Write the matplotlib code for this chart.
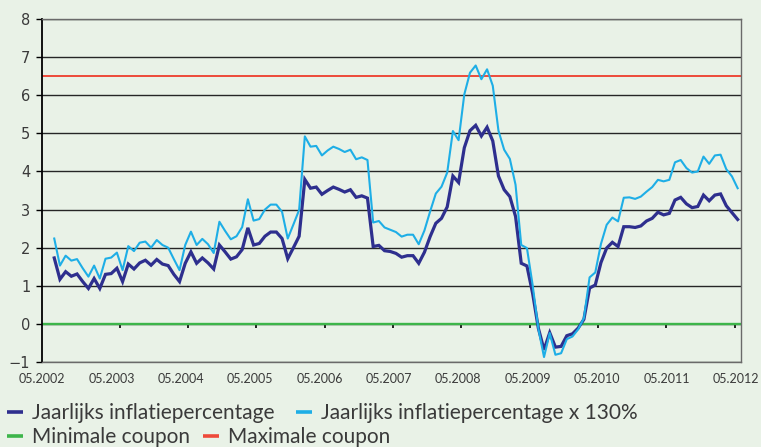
import numpy as np
import matplotlib
matplotlib.use("Agg")
import matplotlib.pyplot as plt
from matplotlib.lines import Line2D

# ---- data (monthly, 05.2002 .. 05.2012) ----
inflatie = [
    1.73, 1.17, 1.37, 1.25, 1.31, 1.11, 0.93, 1.19, 0.93, 1.30, 1.32, 1.46,
    1.11, 1.57, 1.44, 1.60, 1.67, 1.54, 1.69, 1.57, 1.53, 1.30, 1.11, 1.59,
    1.89, 1.59, 1.73, 1.60, 1.44, 2.07, 1.89, 1.70, 1.76, 1.95, 2.52, 2.07,
    2.11, 2.30, 2.41, 2.41, 2.24, 1.71, 2.00, 2.30, 3.79, 3.56, 3.59, 3.40,
    3.50, 3.59, 3.53, 3.46, 3.52, 3.32, 3.36, 3.30, 2.03, 2.06, 1.92, 1.90,
    1.85, 1.75, 1.79, 1.79, 1.59, 1.88, 2.29, 2.64, 2.77, 3.07, 3.88, 3.71,
    4.62, 5.07, 5.21, 4.93, 5.16, 4.80, 3.88, 3.52, 3.34, 2.82, 1.59, 1.52,
    0.80, -0.11, -0.68, -0.23, -0.61, -0.59, -0.31, -0.26, -0.11, 0.12, 0.94, 1.02,
    1.61, 1.99, 2.14, 2.03, 2.55, 2.55, 2.53, 2.57, 2.70, 2.77, 2.93, 2.86,
    2.90, 3.25, 3.32, 3.15, 3.05, 3.08, 3.38, 3.23, 3.38, 3.41, 3.10, 2.92,
    2.74,
]
inflatie_130 = [
    2.24, 1.53, 1.79, 1.66, 1.70, 1.46, 1.24, 1.53, 1.19, 1.71, 1.74, 1.87,
    1.41, 2.04, 1.91, 2.13, 2.16, 2.00, 2.20, 2.07, 2.00, 1.70, 1.41, 2.07,
    2.42, 2.07, 2.23, 2.09, 1.86, 2.68, 2.44, 2.22, 2.30, 2.54, 3.27, 2.71,
    2.75, 3.00, 3.13, 3.13, 2.94, 2.24, 2.61, 2.99, 4.92, 4.65, 4.67, 4.42,
    4.55, 4.65, 4.59, 4.51, 4.57, 4.32, 4.37, 4.30, 2.66, 2.70, 2.53, 2.47,
    2.41, 2.29, 2.34, 2.34, 2.09, 2.45, 2.95, 3.42, 3.60, 3.97, 5.06, 4.82,
    6.02, 6.59, 6.78, 6.42, 6.68, 6.25, 5.07, 4.57, 4.33, 3.65, 2.07, 1.99,
    1.02, -0.12, -0.87, -0.24, -0.81, -0.77, -0.40, -0.33, -0.14, 0.15, 1.22, 1.35,
    2.10, 2.60, 2.79, 2.69, 3.31, 3.32, 3.28, 3.34, 3.47, 3.59, 3.78, 3.74,
    3.78, 4.24, 4.30, 4.09, 3.97, 4.00, 4.39, 4.20, 4.42, 4.44, 4.06, 3.87,
    3.56,
]
min_coupon = 0.0
max_coupon = 6.5
year_labels = ["05.2002", "05.2003", "05.2004", "05.2005", "05.2006", "05.2007",
               "05.2008", "05.2009", "05.2010", "05.2011", "05.2012"]
y_ticks = [-1, 0, 1, 2, 3, 4, 5, 6, 7, 8]
series_names = ["Jaarlijks inflatiepercentage", "Jaarlijks inflatiepercentage x 130%",
                "Minimale coupon", "Maximale coupon"]

# ---- style ----
BG = "#E9F2E7"
C_DARK = "#2E2F8E"
C_LIGHT = "#1EAEE6"
C_GREEN = "#3DB54A"
C_RED = "#EE4A3A"
TXT = "#3A3A3A"

W, H = 761, 447
fig = plt.figure(figsize=(W / 100, H / 100), dpi=100, facecolor=BG)
ax = fig.add_axes([42 / W, 1 - 362 / H, (740.5 - 42) / W, (362 - 19) / H])
ax.set_facecolor(BG)

x = np.arange(len(inflatie))
ax.set_xlim(-0.5, len(inflatie) - 0.5)
ax.set_ylim(-1, 8)

# grid
ax.set_yticks(y_ticks)
ax.yaxis.grid(True, color="#262626", lw=1.0, zorder=1)
ax.set_axisbelow(True)

ax.axhline(min_coupon, color=C_GREEN, lw=1.7, zorder=2)
ax.axhline(max_coupon, color=C_RED, lw=1.4, zorder=2)
ax.plot(x, inflatie, color=C_DARK, lw=2.3, zorder=3, solid_joinstyle="miter")
ax.plot(x, inflatie_130, color=C_LIGHT, lw=1.5, zorder=4)

for s in ["top", "right", "bottom"]:
    ax.spines[s].set_color("#6a6a6a")
    ax.spines[s].set_linewidth(1.0)
ax.spines["left"].set_color("black")
ax.spines["left"].set_linewidth(1.3)

ax.tick_params(axis="y", direction="out", length=4.5, width=1.0, color="black",
               pad=4, labelsize=10.5, labelcolor=TXT)
for lab in ax.get_yticklabels():
    lab.set_fontfamily("DejaVu Sans")

# x labels (placed as in original, slightly offset from the tick marks)
label_pos = np.linspace(-2.15, 119.7, len(year_labels))
ax.set_xticks(label_pos)
ax.set_xticklabels(year_labels, fontfamily="Lato", fontsize=9, color=TXT)
ax.tick_params(axis="x", length=0, pad=8)

# tick marks on the zero line
sec = ax.secondary_xaxis((min_coupon + 1) / 9)
sec.set_xticks(np.arange(11.5, len(inflatie), 12))
sec.set_xticklabels([])
sec.tick_params(axis="x", direction="out", length=3.2, width=1.2, color="black")
sec.spines["bottom"].set_visible(False)

# legend entries
entries = [
    (series_names[0], C_DARK, 7, 413),
    (series_names[1], C_LIGHT, 296, 413),
    (series_names[2], C_GREEN, 7, 437),
    (series_names[3], C_RED, 203, 437),
]
fs = 15
fs_px = fs * 100 / 72
for name, col, px, py in entries:
    fig.legend(handles=[Line2D([], [], color=col, lw=2.6, solid_capstyle="butt")],
               labels=[name], loc="center left",
               bbox_to_anchor=(px / W, 1 - py / H), frameon=False,
               borderpad=0, borderaxespad=0, handlelength=16 / fs_px,
               handletextpad=9 / fs_px, prop={"family": "Lato", "size": fs},
               labelcolor=TXT)

fig.savefig("out.png", dpi=100, facecolor=BG)
